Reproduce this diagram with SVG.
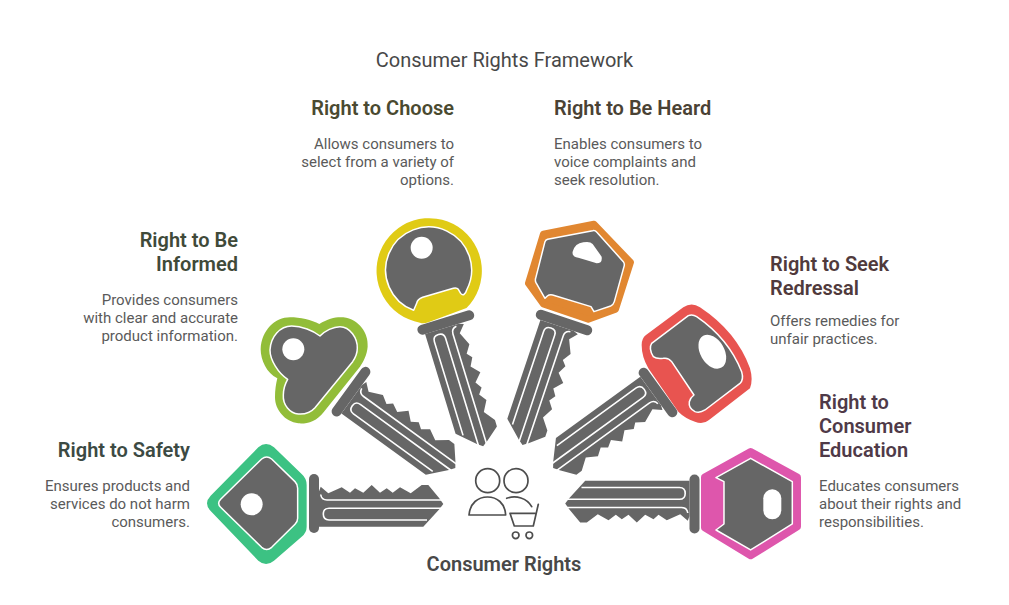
<svg xmlns="http://www.w3.org/2000/svg" width="1009" height="605" viewBox="0 0 1009 605">
<style>
text{font-family:Roboto,"Liberation Sans",sans-serif}
.t{font-size:20px;fill:#484848;text-anchor:middle}
.h{font-size:20px;font-weight:600}
.d{font-size:15px;fill:#5a5a5a}
.e{text-anchor:end}
.g{fill:#666;stroke:#fff;stroke-width:4.500;stroke-linejoin:round}
.w{fill:#fff}
.b{fill:#666}
.l{fill:none;stroke:#fff;stroke-width:1.600}
.i{fill:none;stroke:#4d4d4d;stroke-width:1.700;stroke-linecap:round;stroke-linejoin:round}
</style>
<defs>
<g id="blade">
<rect class="b" x="-5" y="-29.500" width="10" height="59" rx="5"/>
<path class="b" d="M5 -12 L6.700 -16.800 L14.300 -10.200 L27.700 -16.200 L36 -10.800 L41 -15.200 L49.300 -10.800 L57.700 -18.500 L66 -10.800 L72.700 -15.200 L78.700 -10.800 L86 -16.200 L96.700 -10.200 L107.700 -18.500 L114.300 -18.500 L125.300 -5.200 L129.300 0.500 L125.300 5.800 L109.300 23.200 L5 23.200Z"/>
<path class="l" d="M6.700 -9 Q7.500 -3.500 13 -3.500 L131 -3.500"/>
<path class="l" d="M127 4.800 L15 4.800 Q9.300 4.800 9.300 10.600 Q9.300 16.500 15 16.500 L113 16.500"/>
</g>
</defs>
<text class="t" x="504.500" y="67">Consumer Rights Framework</text>
<g id="connectors"></g>
<g id="right-to-safety">
<use href="#blade" transform="translate(314 503.500)"/>
<g transform="translate(200 310) scale(.3333)">
<path fill="#3cc283" d="M175 412 Q198 392 222 412 L305 492 Q320 505 320 525 L320 650 Q320 668 305 680 L222 752 Q198 772 175 752 L32 603 Q10 580 32 557Z"/>
<path class="g" d="M185 447 Q200 435 215 447 L285 515 Q293 523 293 535 L293 625 Q293 635 285 643 L215 712 Q200 725 185 712 L62 592 Q50 580 62 568Z"/>
<circle class="w" cx="155" cy="583" r="33"/>
</g>
<text class="h e" x="190" y="457" fill="#3c4a43">Right to Safety</text>
<text class="d e"><tspan x="190" y="491">Ensures products and</tspan><tspan x="190" y="509">services do not harm</tspan><tspan x="190" y="527">consumers.</tspan></text>
</g>
<g id="right-to-be-informed">
<use href="#blade" transform="translate(351 391.700) rotate(36)"/>
<g transform="translate(200 310) scale(.3333)">
<path fill="#92bd39" d="M358 42 C385 25 410 20 430 22 C478 28 506 70 503 110 C501 135 490 155 480 170 L372 305 C350 335 320 342 295 340 C255 335 225 300 225 262 C225 240 228 222 232 205 C200 190 182 150 182 118 C185 60 225 22 270 22 C300 22 335 30 358 42Z"/>
<path class="g" d="M360 78 C375 62 400 50 420 50 C450 50 473 85 472 115 C472 130 465 145 458 155 L345 293 C330 310 310 313 295 312 C270 310 248 285 250 255 C250 240 255 222 263 208 C235 190 210 150 210 120 C212 80 240 48 275 48 C305 48 340 62 360 78Z"/>
<circle class="w" cx="280" cy="118" r="33"/>
</g>
<text class="h e" fill="#404a39"><tspan x="238" y="247">Right to Be</tspan><tspan x="238" y="271">Informed</tspan></text>
<text class="d e"><tspan x="238" y="305">Provides consumers</tspan><tspan x="238" y="323">with clear and accurate</tspan><tspan x="238" y="341">product information.</tspan></text>
</g>
<g id="right-to-choose">
<use href="#blade" transform="translate(445.800 322.500) rotate(73)"/>
<g transform="translate(370 210) scale(.3333)">
<path fill="#e0cb15" d="M289.500 294 A158 158 0 1 0 150 338 Q160 342 175 337Z"/>
<path class="g" d="M131 301 A129 129 0 1 1 290 240 C286 255 278 258 272 250 L265 238 Q260 232 250 235 L158 262 Q142 268 140 280 L131 301Z"/>
<circle class="w" cx="155" cy="113" r="33"/>
</g>
<text class="h e" x="454" y="115" fill="#4a4a30">Right to Choose</text>
<text class="d e"><tspan x="454" y="149">Allows consumers to</tspan><tspan x="454" y="167">select from a variety of</tspan><tspan x="454" y="185">options.</tspan></text>
</g>
<g id="right-to-be-heard">
<use href="#blade" transform="translate(564 322.500) rotate(108.500)"/>
<g transform="translate(370 210) scale(.3333)">
<polygon fill="#e18731" stroke="#e18731" stroke-width="20" stroke-linejoin="round" points="520,72 672,42 782,157 737,298 655,328 520,282 475,220"/>
<path class="g" d="M533 88 L668 62 Q675 60 680 66 L760 155 Q765 162 762 170 L733 275 Q730 285 722 288 L672 305 L663 290 L548 255 Q538 253 532 258 L525 265 L498 218 Q495 212 497 205 L525 95 Q527 90 533 88Z"/>
<path class="w" d="M608 125 Q615 100 640 97 Q660 93 668 102 L695 140 Q698 160 680 160 Q650 150 625 143 Q605 140 608 125Z"/>
</g>
<text class="h" x="554" y="115" fill="#4a4234">Right to Be Heard</text>
<text class="d"><tspan x="554" y="149">Enables consumers to</tspan><tspan x="554" y="167">voice complaints and</tspan><tspan x="554" y="185">seek resolution.</tspan></text>
</g>
<g id="right-to-seek-redressal">
<use href="#blade" transform="translate(658 392.500) rotate(144)"/>
<g transform="translate(540 300) scale(.3333)">
<path fill="#e85450" d="M318 105 L430 22 Q455 5 480 22 Q590 95 630 205 Q640 240 630 265 L510 358 Q490 375 465 365 Q435 355 415 335 L325 205 Q305 170 305 135 Q305 115 318 105Z"/>
<path class="g" d="M335 130 L445 47 Q458 42 470 50 Q565 115 605 215 Q612 240 600 250 L495 330 Q480 340 465 335 Q445 325 448 305 Q452 292 462 285 L395 185 Q385 172 370 175 Q350 178 340 170 Q325 145 335 130Z"/>
<ellipse class="w" cx="517" cy="155" rx="36" ry="55" transform="rotate(-30 517 155)"/>
</g>
<text class="h" fill="#503a3c"><tspan x="770" y="271">Right to Seek</tspan><tspan x="770" y="295">Redressal</tspan></text>
<text class="d"><tspan x="770" y="326">Offers remedies for</tspan><tspan x="770" y="344">unfair practices.</tspan></text>
</g>
<g id="right-to-consumer-education">
<use href="#blade" transform="translate(694.500 504) rotate(180)"/>
<g transform="translate(540 300) scale(.3333)">
<polygon fill="#de56ac" stroke="#de56ac" stroke-width="22" stroke-linejoin="round" points="632,455 772,532 772,680 632,767 494,683 494,532"/>
<path class="g" d="M632 475 L757 545 L757 672 L632 750 L528 690 L552 672 L552 545 L528 533Z"/>
<rect class="w" x="670" y="568" width="54" height="90" rx="27"/>
</g>
<text class="h" fill="#4f3a48"><tspan x="819" y="409">Right to</tspan><tspan x="819" y="433">Consumer</tspan><tspan x="819" y="457">Education</tspan></text>
<text class="d"><tspan x="819" y="491">Educates consumers</tspan><tspan x="819" y="509">about their rights and</tspan><tspan x="819" y="527">responsibilities.</tspan></text>
</g>
<g id="consumer-rights">
<circle class="i" cx="487.700" cy="480.700" r="12"/>
<circle class="i" cx="516" cy="480.700" r="12"/>
<path class="i" d="M469 515 C470 503 478 497 487.500 497 C497 497 505 503 505.700 515Z"/>
<path class="i" d="M506.700 498.300 C516 495 527 498 531.700 506.700"/>
<path class="i" d="M538.300 504.300 L533.300 526 L514.300 526 L510 513.300 L535 513.300"/>
<circle class="i" cx="515.700" cy="535.300" r="3.300"/>
<circle class="i" cx="529.300" cy="535.300" r="3.300"/>
<text x="504" y="571" text-anchor="middle" style="font-size:20px;font-weight:600" fill="#484848">Consumer Rights</text>
</g>
</svg>
